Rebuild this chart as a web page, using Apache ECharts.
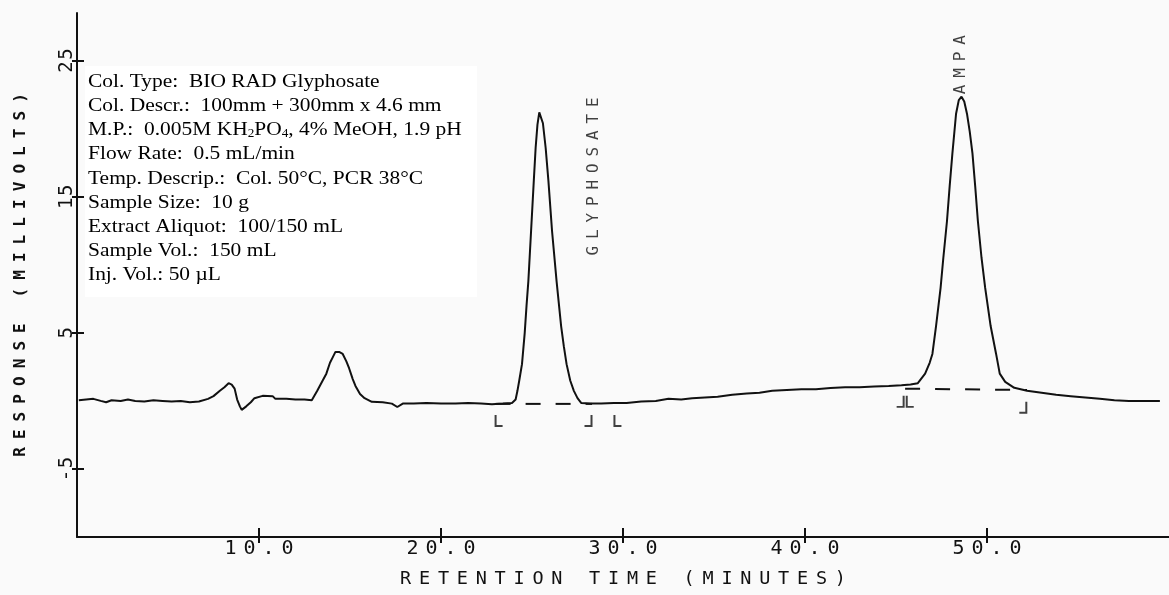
<!DOCTYPE html>
<html><head><meta charset="utf-8">
<script src="https://cdn.jsdelivr.net/npm/echarts@6/dist/echarts.min.js"></script>
<style>html,body{margin:0;padding:0;background:#fafafa}#c{width:1169px;height:595px}</style>
</head><body><div id="c"></div>
<script>
// ---- data ----
const time = [0.1,0.5,0.9,1.3,1.6,1.9,2.4,2.8,3.2,3.7,4.2,4.7,5.2,5.7,6.2,6.7,7.2,7.5,7.85,8.1,8.33,8.5,8.66,8.8,8.95,9.05,9.3,9.55,9.75,10.2,10.75,10.9,11.5,12.0,12.5,12.9,13.2,13.5,13.7,13.9,14.05,14.2,14.4,14.6,14.8,14.95,15.15,15.3,15.55,15.8,16.2,16.8,17.3,17.6,17.9,18.5,19.2,20.0,20.8,21.5,22.2,22.8,23.4,23.9,24.1,24.2,24.3,24.45,24.6,24.7,24.8,24.95,25.1,25.2,25.3,25.4,25.5,25.6,25.75,25.9,26.1,26.35,26.6,26.75,26.9,27.1,27.3,27.5,27.7,28.2,28.8,29.5,30.2,31.0,31.8,32.5,33.2,33.8,34.5,35.2,36.0,36.8,37.5,38.2,39.0,39.8,40.6,41.4,42.2,43.0,43.8,44.6,45.3,45.8,46.2,46.6,46.85,47.0,47.2,47.45,47.6,47.8,47.95,48.1,48.3,48.45,48.6,48.75,48.9,49.05,49.2,49.35,49.5,49.7,49.9,50.2,50.5,50.7,51.0,51.5,52.2,53.0,53.8,54.6,55.4,56.2,57.0,57.8,58.6,59.5];
const response = [0.05,0.1,0.15,0.0,-0.1,0.05,0.0,0.1,0.0,-0.05,0.05,0.0,-0.05,0.0,-0.1,-0.05,0.15,0.35,0.74,1.0,1.3,1.2,0.9,0.1,-0.4,-0.66,-0.4,-0.1,0.2,0.37,0.35,0.15,0.15,0.1,0.1,0.05,0.74,1.5,2.0,2.8,3.2,3.6,3.6,3.45,2.9,2.4,1.6,1.1,0.5,0.2,-0.07,-0.1,-0.2,-0.45,-0.2,-0.2,-0.15,-0.2,-0.2,-0.15,-0.2,-0.25,-0.2,-0.15,0.1,0.74,1.5,2.7,5.0,7.0,8.8,12.5,16.2,18.6,20.3,21.2,21.1,20.4,18.6,16.2,12.5,8.8,5.5,4.0,2.7,1.5,0.74,0.2,-0.15,-0.2,-0.2,-0.15,-0.15,-0.05,0.0,0.15,0.1,0.2,0.25,0.3,0.45,0.55,0.6,0.75,0.8,0.85,0.85,0.95,1.0,1.0,1.05,1.1,1.15,1.2,1.3,2.0,2.8,3.45,5.5,8.3,10.5,13.2,15.8,18.2,21.1,22.1,22.35,22.0,21.1,19.8,18.2,15.8,13.2,10.5,8.3,5.5,3.45,2.0,1.4,0.96,0.75,0.6,0.45,0.35,0.25,0.15,0.05,0.0,0.0,0.0];

// integration baselines [time, response]
const glyphBaseline = [[23.0,-0.22],[28.3,-0.22]];
const ampaBaseline = [[45.5,0.9],[52.2,0.8]];
// integration start/stop markers [time, response, kind]
const markers = [[23.0,-1.47,'L'],[28.27,-1.47,'J'],[29.53,-1.47,'L'],[45.42,-0.07,'J'],[45.59,-0.07,'L'],[52.16,-0.5,'J']];
// peak names [time, response, name]
const peakNames = [[28.4,16.5,'GLYPHOSATE'],[48.55,24.7,'AMPA']];

const xTicks = [10,20,30,40,50];
const yTicks = [-5,5,15,25];
const xTitle = 'RETENTION TIME (MINUTES)';
const yTitle = 'RESPONSE (MILLIVOLTS)';
const infoLines = [
  'Col. Type:  BIO RAD Glyphosate',
  'Col. Descr.:  100mm + 300mm x 4.6 mm',
  'M.P.:  0.005M KH{sub|2}PO{sub|4}, 4% MeOH, 1.9 pH',
  'Flow Rate:  0.5 mL/min',
  'Temp. Descrip.:  Col. 50°C, PCR 38°C',
  'Sample Size:  10 g',
  'Extract Aliquot:  100/150 mL',
  'Sample Vol.:  150 mL',
  'Inj. Vol.: 50 µL'
];

// ---- chart ----
const track = (s, key) => s.split('').map(ch => '{' + key + '|' + ch + '}').join('');
const mono = 'DejaVu Sans Mono';
const INK = '#111';
const symL = 'path://M0,0 h2 v11 h6 v2 h-8 z';
const symJ = 'path://M6,0 h2 v13 h-8 v-2 h6 z';
const cell = (w, size, bold) => ({width:w, align:'center', fontFamily:mono, fontSize:size, color:INK, fontWeight:bold?'bold':'normal'});

const chart = echarts.init(document.getElementById('c'), null, {renderer:'canvas'});
const common = {type:'value', splitLine:{show:false}};
chart.setOption({
  backgroundColor:'#fafafa',
  animation:false,
  grid:{left:77, top:13, width:1095, height:524, containLabel:false},
  xAxis:[
    Object.assign({}, common, {position:'bottom', min:0, max:60, interval:10,
      axisLine:{show:true, onZero:false, lineStyle:{color:INK, width:2}},
      axisTick:{show:true, customValues:xTicks, length:6, lineStyle:{color:INK, width:2}},
      axisLabel:{customValues:xTicks, margin:2, formatter:v=>track(v.toFixed(1),'c'),
        rich:{c:cell(19,20)}},
      name:track(xTitle,'c'), nameLocation:'middle', nameGap:33,
      nameTextStyle:{rich:{c:cell(18.9,18.5)}}}),
    Object.assign({}, common, {position:'bottom', offset:0, min:0, max:60, interval:10,
      axisLine:{show:false, onZero:false},
      axisTick:{show:true, inside:true, customValues:xTicks, length:9, lineStyle:{color:INK, width:2}},
      axisLabel:{show:false}})
  ],
  yAxis:[
    Object.assign({}, common, {position:'left', min:-10, max:28.5,
      axisLine:{show:true, onZero:false, lineStyle:{color:INK, width:2}},
      axisTick:{show:true, customValues:yTicks, length:5, lineStyle:{color:INK, width:2}},
      axisLabel:{customValues:yTicks, rotate:90, margin:0, formatter:v=>track(String(v),'c'),
        rich:{c:cell(13,19)}},
      name:track(yTitle,'c'), nameLocation:'middle', nameGap:48,
      nameTextStyle:{rich:{c:cell(17.7,16,true)}}}),
    Object.assign({}, common, {position:'left', offset:0, min:-10, max:28.5,
      axisLine:{show:false, onZero:false},
      axisTick:{show:true, inside:true, customValues:yTicks, length:7, lineStyle:{color:INK, width:2}},
      axisLabel:{show:false}})
  ],
  series:[
    {type:'line', name:'trace', data:time.map((t,i)=>[t,response[i]]), symbol:'none',
      lineStyle:{color:INK, width:2}, z:3},
    {type:'line', data:glyphBaseline, symbol:'none', lineStyle:{color:INK, width:2, type:[15,15]}, z:2},
    {type:'line', data:ampaBaseline, symbol:'none', lineStyle:{color:INK, width:2, type:[15,15]}, z:2},
    {type:'scatter', data:markers.map(m=>({value:[m[0],m[1]],
        symbol:m[2]==='L'?symL:symJ, symbolOffset:[m[2]==='L'?3:-3,0]})),
      symbolSize:[8,12], itemStyle:{color:INK}, z:4},
    {type:'scatter', data:peakNames.map(p=>({value:[p[0],p[1]], name:p[2]})), symbolSize:0,
      label:{show:true, position:'inside', rotate:90, formatter:p=>track(p.name,'c'),
        rich:{c:cell(16.5,16)}}, z:5}
  ],
  graphic:[
    {type:'rect', left:85, top:66, shape:{width:392, height:231}, style:{fill:'#ffffff'}, z:10},
    {type:'text', x:88, y:70, scaleX:1.1, z:11,
      style:{text:infoLines.join('\n'), fill:'#000', font:'19.5px "Liberation Serif"',
        lineHeight:24.1, verticalAlign:'top',
        rich:{sub:{fontSize:12, fontFamily:'Liberation Serif', fill:'#000', padding:[8,0,0,0], lineHeight:24.1}}}}
  ]
});
</script></body></html>
